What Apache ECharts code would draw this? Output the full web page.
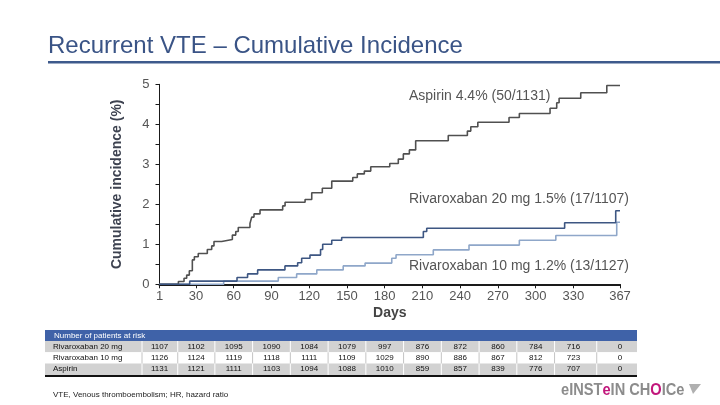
<!DOCTYPE html>
<html><head><meta charset="utf-8">
<script src="https://cdn.jsdelivr.net/npm/echarts@6/dist/echarts.min.js"></script>
<style>html,body{margin:0;padding:0;background:#fff}#c{width:720px;height:405px}</style>
</head><body><div id="c"></div>
<script>
// ---- data ----
const xTicks = [1, 30, 60, 90, 120, 150, 180, 210, 240, 270, 300, 330, 367];
const yLabels = [0, 1, 2, 3, 4, 5];

const aspirinDays = [1,16,20.5,22.6,24.7,27.1,28.7,31.8,39,42.5,44.3,50.4,58.9,61.6,63.6,72.9,74.3,76.1,80.9,98.9,100.8,116.7,122,130.4,137.9,154.6,158.2,163.8,168.9,184,190.8,194.8,199.6,204.6,230.5,245.7,248.4,254,278.8,287,311.4,316.7,318.6,335.8,356.5,367];
const aspirinPct  = [0,0.07,0.15,0.23,0.34,0.61,0.69,0.77,0.87,0.96,1.07,1.12,1.23,1.32,1.42,1.52,1.68,1.76,1.86,1.96,2.05,2.12,2.29,2.4,2.58,2.67,2.76,2.83,2.94,3.02,3.13,3.26,3.36,3.59,3.72,3.83,3.94,4.05,4.17,4.27,4.4,4.54,4.65,4.79,4.97,4.97];

const riva20Days = [1,25,62.6,71,79,100.7,110.8,114,120.6,129,130.7,137.9,145.8,210.7,213.4,323,363.6,367];
const riva20Pct  = [0,0.08,0.17,0.26,0.36,0.46,0.54,0.65,0.73,0.87,1.0,1.1,1.17,1.32,1.4,1.54,1.84,1.84];

const riva10Days = [1,52,95.4,110,126,147,164.4,185.6,189,218.6,247,287,316,364.4,367];
const riva10Pct  = [0,0.08,0.17,0.26,0.36,0.46,0.53,0.65,0.74,0.86,0.98,1.1,1.22,1.55,1.55];

const seriesNames = ['Aspirin', 'Rivaroxaban 10 mg', 'Rivaroxaban 20 mg'];
const annotations = ['Aspirin 4.4% (50/1131)', 'Rivaroxaban 20 mg 1.5% (17/1107)', 'Rivaroxaban 10 mg 1.2% (13/1127)'];

const riskHeader = 'Number of patients at risk';
const riskRowNames = ['Rivaroxaban 20 mg', 'Rivaroxaban 10 mg', 'Aspirin'];
const riskRiva20 = [1107,1102,1095,1090,1084,1079,997,876,872,860,784,716,0];
const riskRiva10 = [1126,1124,1119,1118,1111,1109,1029,890,886,867,812,723,0];
const riskAspirin = [1131,1121,1111,1103,1094,1088,1010,859,857,839,776,707,0];

const titleText = 'Recurrent VTE \u2013 Cumulative Incidence';
const footnote = 'VTE, Venous thromboembolism; HR, hazard ratio';

// ---- chart ----
const FONT = '"Liberation Sans", Arial, sans-serif';
const zip = (d, v) => d.map((x, i) => [x, v[i]]);
const chart = echarts.init(document.getElementById('c'));

chart.setOption({
  animation: false,
  grid: { left: 159.5, right: 100, top: 84.3, bottom: 120.7, containLabel: false },
  xAxis: {
    type: 'value', min: 1, max: 367,
    axisLine: { lineStyle: { color: '#1a1a1a', width: 2 } },
    axisTick: { show: true, customValues: xTicks, length: 4, lineStyle: { color: '#1a1a1a', width: 1 } },
    axisLabel: { customValues: xTicks, color: '#555', fontSize: 13, fontFamily: FONT, margin: 6 },
    splitLine: { show: false },
    name: 'Days', nameLocation: 'middle', nameGap: 22,
    nameTextStyle: { color: '#444', fontSize: 14, fontWeight: 'bold', fontFamily: FONT }
  },
  yAxis: {
    type: 'value', min: 0, max: 5, interval: 0.5,
    axisLine: { show: true, lineStyle: { color: '#1a1a1a', width: 1 } },
    axisTick: { show: true, length: 4, lineStyle: { color: '#1a1a1a', width: 1 } },
    axisLabel: { customValues: yLabels, color: '#555', fontSize: 13, fontFamily: FONT, margin: 10 },
    splitLine: { show: false },
    name: 'Cumulative incidence (%)', nameLocation: 'middle', nameGap: 35, nameRotate: 90,
    nameTextStyle: { color: '#3d4250', fontSize: 14, fontWeight: 'bold', fontFamily: FONT }
  },
  series: [
    { name: seriesNames[0], type: 'line', step: 'end', symbol: 'none', data: zip(aspirinDays, aspirinPct),
      lineStyle: { color: '#505050', width: 1.6 }, z: 3 },
    { name: seriesNames[1], type: 'line', step: 'end', symbol: 'none', data: zip(riva10Days, riva10Pct),
      lineStyle: { color: '#8fa7c9', width: 1.6 }, z: 2 },
    { name: seriesNames[2], type: 'line', step: 'end', symbol: 'none', data: zip(riva20Days, riva20Pct),
      lineStyle: { color: '#3d5682', width: 1.6 }, z: 4 }
  ]
});

// ---- decorations & risk table ----
const xs = xTicks.map(d => chart.convertToPixel({ xAxisIndex: 0 }, d));
const g = [];
g.push({ type: 'text', x: 48, y: 46, style: { text: titleText, fill: '#3a5486', font: '24px ' + FONT, verticalAlign: 'middle' } });
g.push({ type: 'rect', shape: { x: 48, y: 61, width: 672, height: 2.5 }, style: { fill: '#3e5a8c' } });

const annY = [96, 199, 266];
annotations.forEach((t, i) => {
  g.push({ type: 'text', x: 409, y: annY[i], z: 10, style: { text: t, fill: '#555', font: '14px ' + FONT, verticalAlign: 'middle' } });
});

const tLeft = 45, tRight = 637;
g.push({ type: 'rect', shape: { x: tLeft, y: 330, width: tRight - tLeft, height: 11 }, style: { fill: '#3f62a8' } });
g.push({ type: 'text', x: 54, y: 335.8, style: { text: riskHeader, fill: '#fff', font: '8px ' + FONT, verticalAlign: 'middle' } });
const rowData = [riskRiva20, riskRiva10, riskAspirin];
const rowFill = ['#d2d2d2', '#ffffff', '#d2d2d2'];
const rowSep = ['#ffffff', '#c4c4c4', '#ffffff'];
const rowH = 11.3;
const seps = [142];
for (let i = 0; i < xs.length - 1; i++) seps.push((xs[i] + xs[i + 1]) / 2);
rowData.forEach((vals, r) => {
  const y0 = 341 + r * rowH;
  g.push({ type: 'rect', shape: { x: tLeft, y: y0, width: tRight - tLeft, height: rowH }, style: { fill: rowFill[r] } });
  seps.forEach(sx => g.push({ type: 'line', shape: { x1: sx, y1: y0, x2: sx, y2: y0 + rowH }, style: { stroke: rowSep[r], lineWidth: 1 } }));
  g.push({ type: 'text', x: 53, y: y0 + rowH / 2, style: { text: riskRowNames[r], fill: '#111', font: '8px ' + FONT, verticalAlign: 'middle' } });
  vals.forEach((v, c) => g.push({ type: 'text', x: xs[c], y: y0 + rowH / 2, style: { text: String(v), fill: '#111', font: '8px ' + FONT, align: 'center', verticalAlign: 'middle' } }));
});
g.push({ type: 'rect', shape: { x: tLeft, y: 375, width: tRight - tLeft, height: 2 }, style: { fill: '#111' } });

g.push({ type: 'text', x: 53, y: 395, style: { text: footnote, fill: '#222', font: '8px ' + FONT, verticalAlign: 'middle' } });

// logo
g.push({ type: 'text', x: 561, y: 390, scaleX: 0.86, style: {
  text: '{a|eINST}{b|e}{a|IN CH}{b|O}{a|ICe}',
  verticalAlign: 'middle',
  rich: {
    a: { fill: '#8c8c8c', font: 'bold 17px ' + FONT },
    b: { fill: '#c2177c', font: 'bold 17px ' + FONT }
  }
} });
g.push({ type: 'polygon', shape: { points: [[689, 384], [701, 384], [693, 394]] }, style: { fill: '#b0b0b0' } });

chart.setOption({ graphic: g });
</script>
</body></html>
